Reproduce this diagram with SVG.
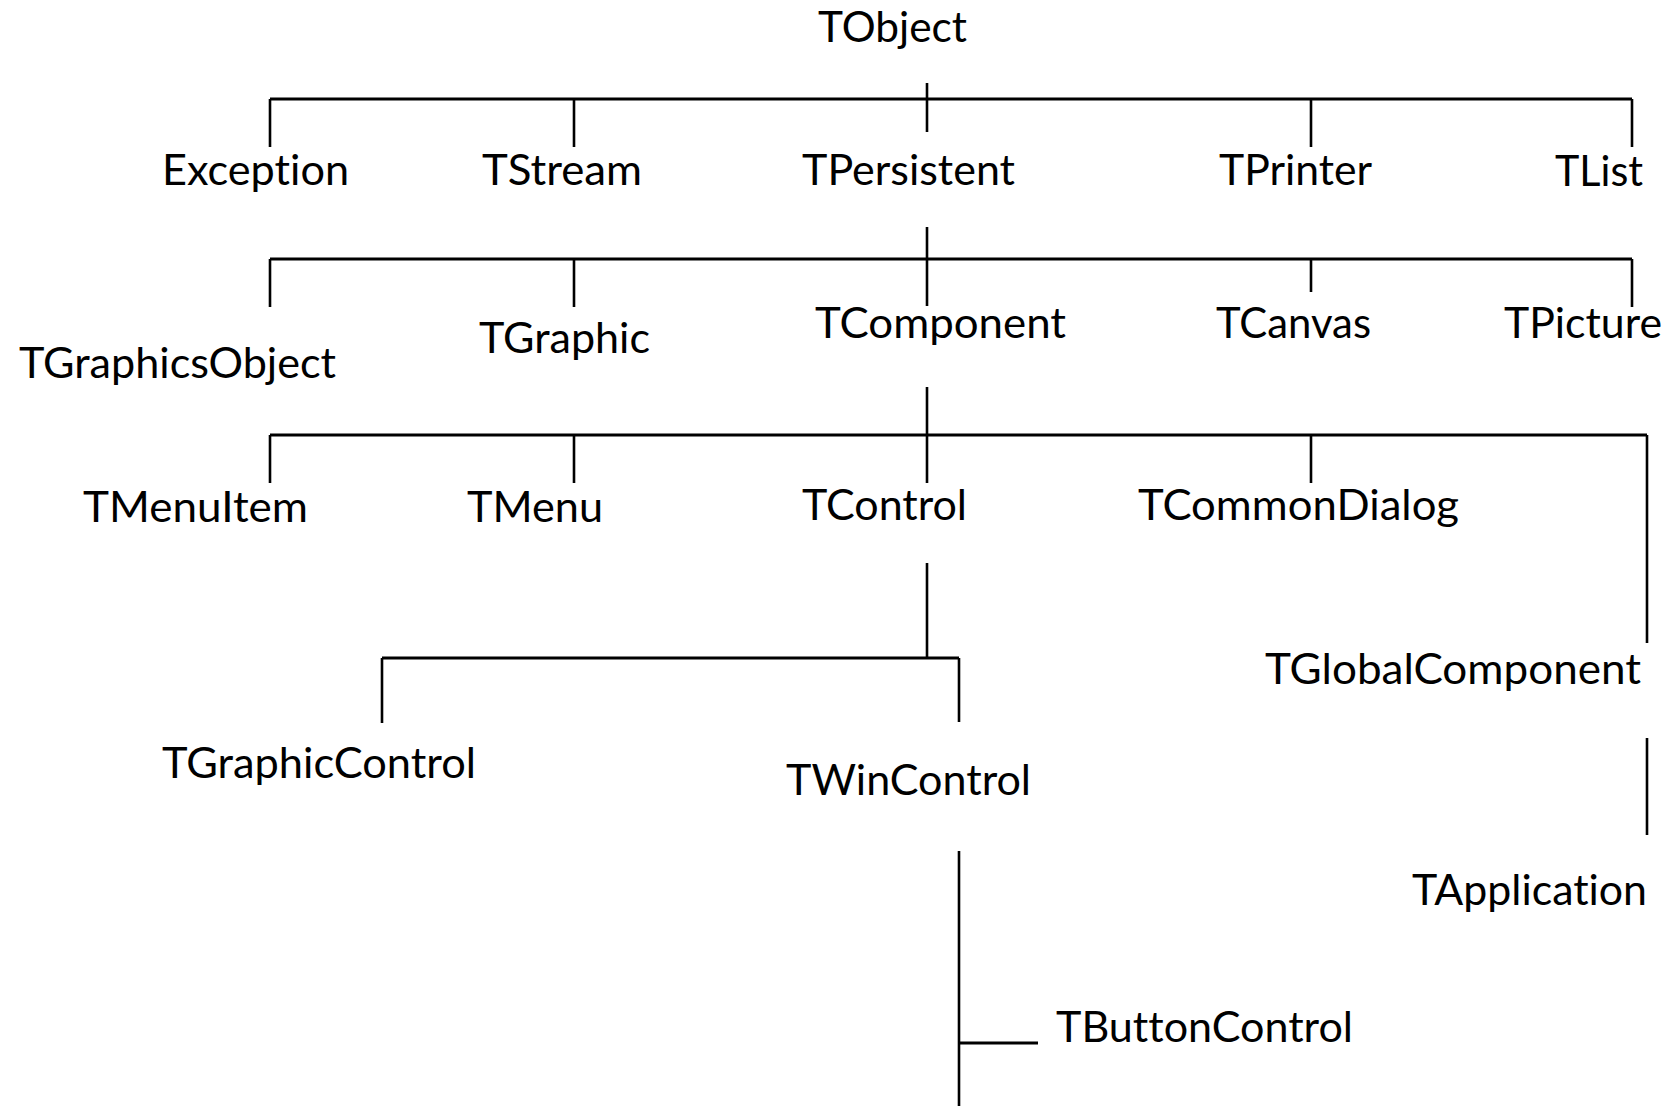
<svg xmlns="http://www.w3.org/2000/svg" width="1670" height="1106" viewBox="0 0 1670 1106">
  <style>
    .lbl { font-family: Lato, "Open Sans", "Liberation Sans", sans-serif; font-size: 42px; fill: #000; font-variant-ligatures: none; font-feature-settings: "liga" 0, "clig" 0; }
    .h { stroke: #000; stroke-width: 3.2; fill: none; }
    .v { stroke: #000; stroke-width: 2.6; fill: none; }
  </style>
  <rect width="1670" height="1106" fill="#fff"/>

  <!-- class hierarchy connectors -->
  <g id="connectors">
    <!-- TObject -->
    <line class="v" x1="927" y1="83" x2="927" y2="132"/>
    <line class="h" x1="270" y1="99" x2="1632" y2="99"/>
    <line class="v" x1="270" y1="99" x2="270" y2="147"/>
    <line class="v" x1="574" y1="99" x2="574" y2="147"/>
    <line class="v" x1="1311" y1="99" x2="1311" y2="147"/>
    <line class="v" x1="1632" y1="99" x2="1632" y2="147"/>
    <!-- TPersistent -->
    <line class="v" x1="927" y1="227" x2="927" y2="306"/>
    <line class="h" x1="270" y1="259" x2="1632" y2="259"/>
    <line class="v" x1="270" y1="259" x2="270" y2="307"/>
    <line class="v" x1="574" y1="259" x2="574" y2="307"/>
    <line class="v" x1="1311" y1="259" x2="1311" y2="292"/>
    <line class="v" x1="1632" y1="259" x2="1632" y2="307"/>
    <!-- TComponent -->
    <line class="v" x1="927" y1="387" x2="927" y2="483"/>
    <line class="h" x1="270" y1="435" x2="1647" y2="435"/>
    <line class="v" x1="270" y1="435" x2="270" y2="483"/>
    <line class="v" x1="574" y1="435" x2="574" y2="483"/>
    <line class="v" x1="1311" y1="435" x2="1311" y2="483"/>
    <line class="v" x1="1647" y1="435" x2="1647" y2="643"/>
    <!-- TControl -->
    <line class="v" x1="927" y1="563" x2="927" y2="658"/>
    <line class="h" x1="382" y1="658" x2="959" y2="658"/>
    <line class="v" x1="382" y1="658" x2="382" y2="723"/>
    <line class="v" x1="959" y1="658" x2="959" y2="722"/>
    <!-- TGlobalComponent -->
    <line class="v" x1="1647" y1="738" x2="1647" y2="835"/>
    <!-- TWinControl -->
    <line class="v" x1="959" y1="851" x2="959" y2="1106"/>
    <line class="h" x1="959" y1="1043" x2="1038" y2="1043"/>
  </g>

  <g id="TObject"><text class="lbl" x="818" y="42" textLength="149" lengthAdjust="spacingAndGlyphs">TObject</text></g>
  <g id="Exception"><text class="lbl" x="162" y="185" textLength="187" lengthAdjust="spacingAndGlyphs">Exception</text></g>
  <g id="TStream"><text class="lbl" x="482" y="185" textLength="160" lengthAdjust="spacingAndGlyphs">TStream</text></g>
  <g id="TPersistent"><text class="lbl" x="802" y="185" textLength="213" lengthAdjust="spacingAndGlyphs">TPersistent</text></g>
  <g id="TPrinter"><text class="lbl" x="1219" y="185" textLength="153" lengthAdjust="spacingAndGlyphs">TPrinter</text></g>
  <g id="TList"><text class="lbl" x="1555" y="186" textLength="88" lengthAdjust="spacingAndGlyphs">TList</text></g>

  <g id="TGraphicsObject"><text class="lbl" x="19" y="378" textLength="317" lengthAdjust="spacingAndGlyphs">TGraphicsObject</text></g>
  <g id="TGraphic"><text class="lbl" x="479" y="353" textLength="171" lengthAdjust="spacingAndGlyphs">TGraphic</text></g>
  <g id="TComponent"><text class="lbl" x="815" y="338" textLength="251" lengthAdjust="spacingAndGlyphs">TComponent</text></g>
  <g id="TCanvas"><text class="lbl" x="1216" y="338" textLength="155" lengthAdjust="spacingAndGlyphs">TCanvas</text></g>
  <g id="TPicture"><text class="lbl" x="1504" y="338" textLength="158" lengthAdjust="spacingAndGlyphs">TPicture</text></g>

  <g id="TMenuItem"><text class="lbl" x="83" y="522" textLength="225" lengthAdjust="spacingAndGlyphs">TMenuItem</text></g>
  <g id="TMenu"><text class="lbl" x="467" y="522" textLength="136" lengthAdjust="spacingAndGlyphs">TMenu</text></g>
  <g id="TControl"><text class="lbl" x="802" y="520" textLength="165" lengthAdjust="spacingAndGlyphs">TControl</text></g>
  <g id="TCommonDialog"><text class="lbl" x="1138" y="520" textLength="321" lengthAdjust="spacingAndGlyphs">TCommonDialog</text></g>
  <g id="TGlobalComponent"><text class="lbl" x="1265" y="684" textLength="376" lengthAdjust="spacingAndGlyphs">TGlobalComponent</text></g>

  <g id="TGraphicControl"><text class="lbl" x="162" y="778" textLength="314" lengthAdjust="spacingAndGlyphs">TGraphicControl</text></g>
  <g id="TWinControl"><text class="lbl" x="786" y="795" textLength="245" lengthAdjust="spacingAndGlyphs">TWinControl</text></g>
  <g id="TApplication"><text class="lbl" x="1412" y="905" textLength="235" lengthAdjust="spacingAndGlyphs">TApplication</text></g>
  <g id="TButtonControl"><text class="lbl" x="1056" y="1042" textLength="297" lengthAdjust="spacingAndGlyphs">TButtonControl</text></g>
</svg>
